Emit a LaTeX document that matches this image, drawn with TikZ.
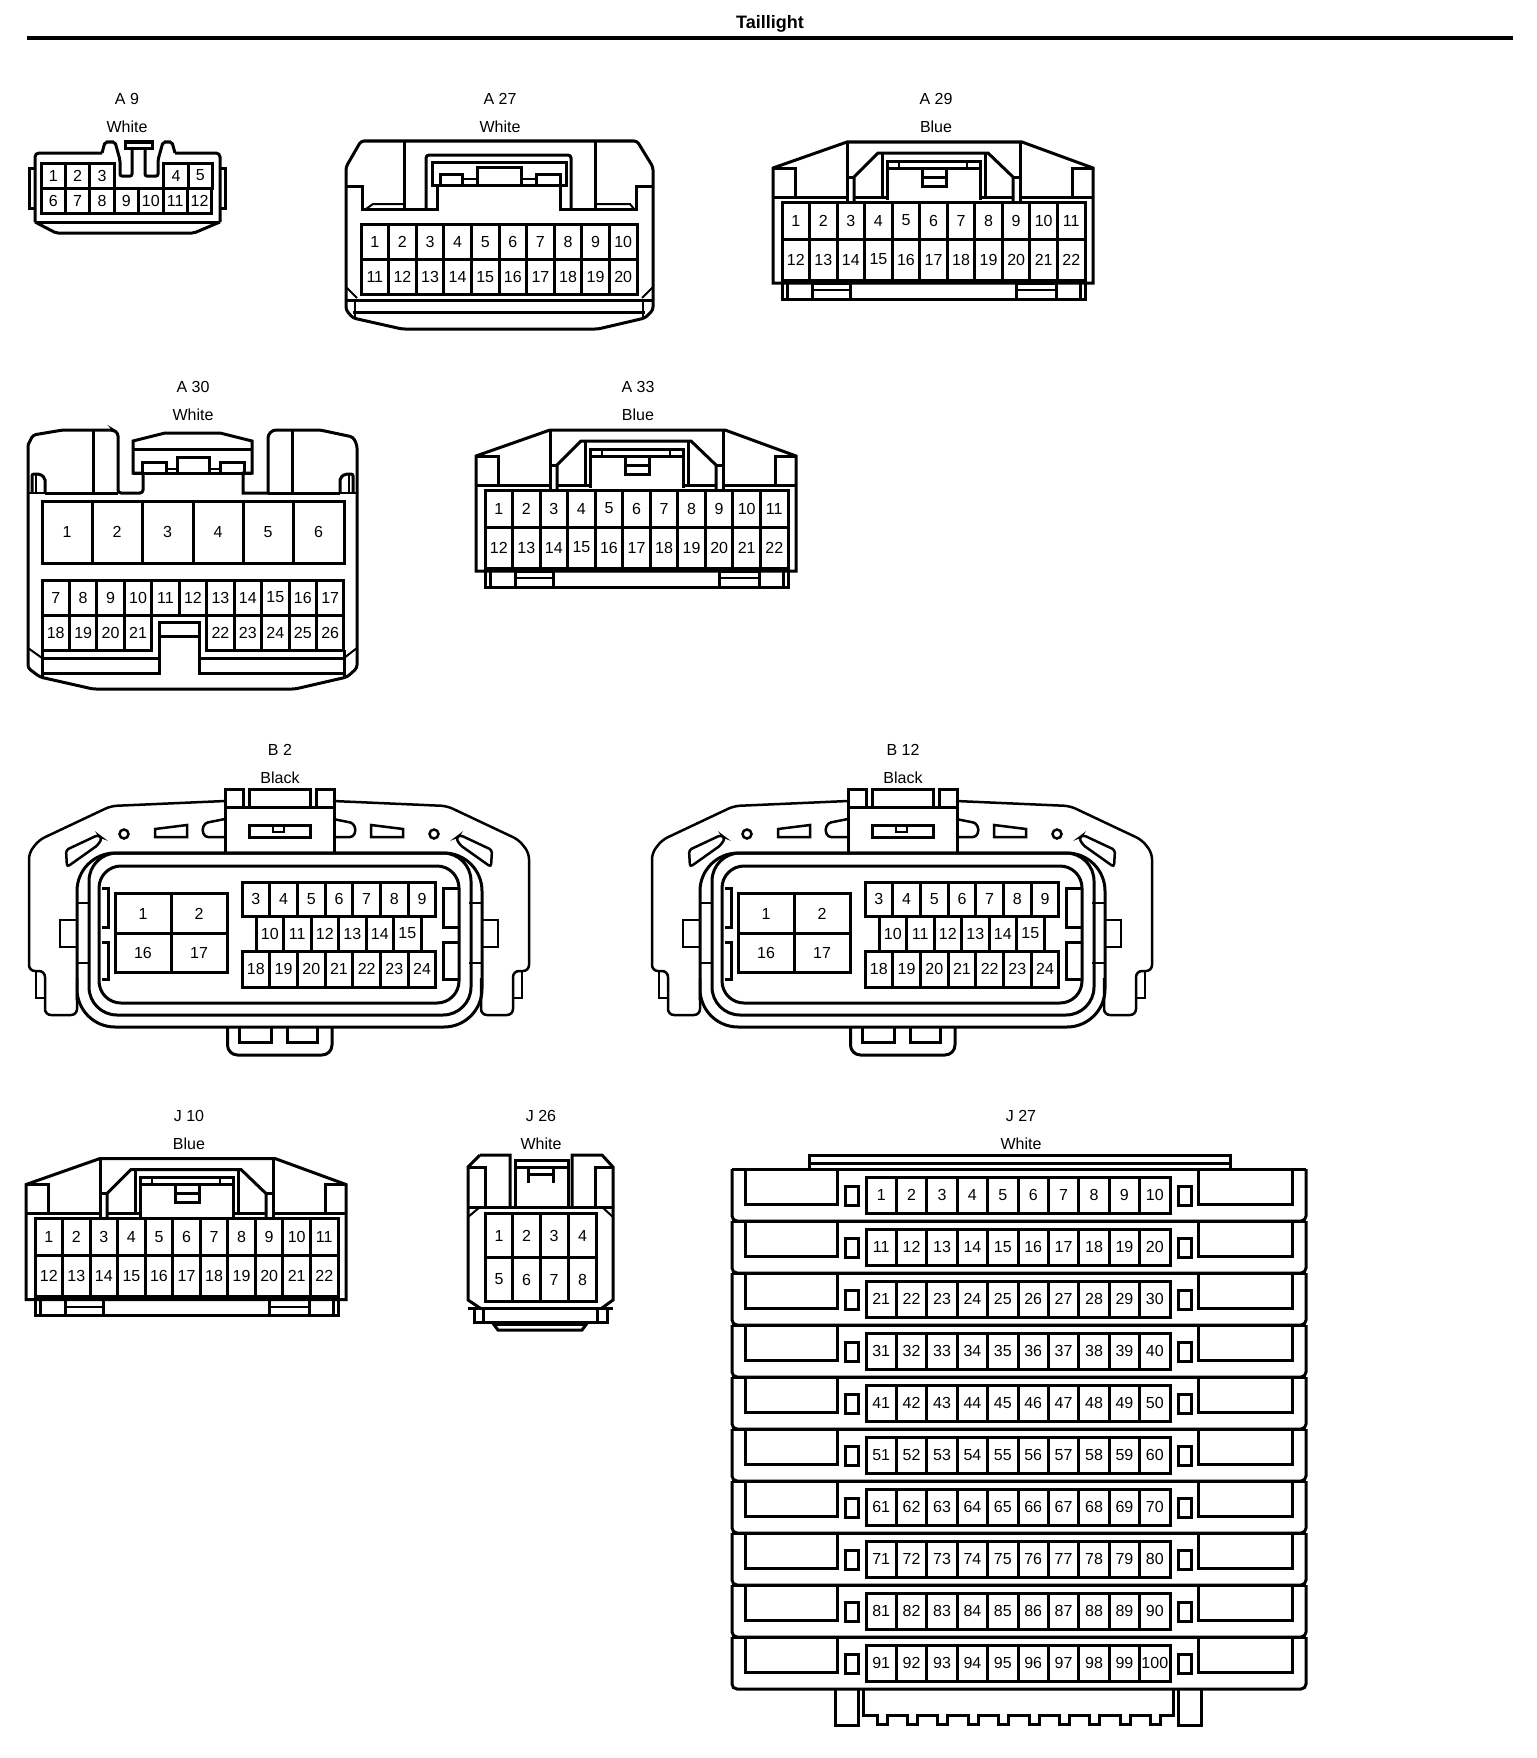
\documentclass[tikz,border=0pt]{standalone}
\usepackage{fontspec}
\setmainfont{Liberation Sans}
\tikzset{
  ln/.style={line width=3pt,line join=miter,line cap=butt},
  thinln/.style={line width=2pt},
  pin/.style={draw,line width=3pt,inner sep=0pt,outer sep=0pt,font=\fontsize{16}{16}\selectfont,fill=white},
  capt/.style={inner sep=0pt,font=\fontsize{16}{16}\selectfont},
}
% #1 prefix, #2 left x, #3 centre y, #4 width, #5 height, #6 first, #7 last
\newcommand{\cellrow}[7]{%
  \foreach \n in {#6,...,#7}{%
    \pgfmathsetmacro{\cx}{#2+(\n-#6+0.5)*#4}%
    \node[pin,minimum width=#4pt,minimum height=#5pt] (#1p\n) at (\cx,#3) {\n};%
  }%
}
\newcommand{\twolabels}[5]{%
  \node[capt] (#1id) at (#2,#3) {#4};
  \node[capt] (#1col) at (#2,#3+28) {#5};
}
\newcommand{\bluetwentytwo}[1]{%
  \draw[ln] (773,283) -- (773,168) -- (847,142) -- (1022,142) -- (1093,168) -- (1093,283) -- cycle;
  \draw[ln] (782,283) -- (782,299) -- (1085,299) -- (1085,283);
  \draw[ln] (787,283) -- (787,299) (1080,283) -- (1080,299);
  \draw[ln] (812,283) rectangle (850,299) (1016,283) rectangle (1056,299);
  \draw[thinln] (812,290) -- (850,290) (1016,290) -- (1056,290);
  \draw[ln] (773,168) -- (795,168) -- (795,197) (1093,168) -- (1072,168) -- (1072,197);
  \draw[ln] (773,197) -- (847,197) (847,142) -- (847,202);
  \draw[ln] (1093,197) -- (1020,197) (1020,142) -- (1020,202);
  \draw[ln] (854,202) -- (854,177) -- (878,153) -- (988,153) -- (1013,177) -- (1013,202);
  \draw[ln] (847,177) -- (854,177) (1013,177) -- (1020,177);
  \draw[ln] (854,197) -- (887,197) (980,197) -- (1013,197);
  \draw[ln] (882,153) -- (882,197) (985,153) -- (985,197);
  \draw[ln] (887,200) -- (887,161) -- (980,161) -- (980,200);
  \draw[ln] (887,168) -- (980,168);
  \draw[thinln] (899,161) -- (899,168) (967,161) -- (967,168);
  \draw[ln] (922,168) -- (922,186) -- (946,186) -- (946,168) (922,177) -- (946,177);
  \cellrow{#1}{782}{220.5}{27.55}{37}{1}{11}
  \cellrow{#1}{782}{259.5}{27.55}{41}{12}{22}
}
\newcommand{\bodyhalf}{%
  \draw[ln,line width=2.5pt,rounded corners=6pt] (225,801) -- (111,806) -- (39,840) -- (29,853) -- (29,971) -- (45,971) -- (45,1015) -- (77,1015) -- (77,978);
  \draw[ln,line width=2.5pt] (36,971) -- (36,998) -- (45,998);
  \draw[ln,line width=2.5pt] (77,920) -- (60,920) -- (60,947) -- (77,947);
  \draw[ln,line width=2.5pt] (77,903) -- (89,903) (77,963) -- (89,963);
  \draw[ln,line width=2.5pt] (155,829) -- (187,825) -- (187,837) -- (155,837) -- cycle;
  \draw[ln,line width=2.5pt] (124,834) circle (4.5);
  \draw[ln,line width=2.5pt,rounded corners=3pt] (225,819) -- (205,823) -- (202,830) -- (205,837) -- (225,837);
  \draw[ln,line width=2.5pt,rounded corners=3pt] (66,850) -- (98,835) -- (102,838) -- (98,845) -- (67,867) -- cycle;
}
\newcommand{\connB}[1]{%
  \bodyhalf
  \begin{scope}[xshift=558pt,xscale=-1]\bodyhalf\end{scope}
  \draw[ln] (225,853) -- (225,789) -- (243,789) -- (243,807) (249,807) -- (249,789) -- (310,789) -- (310,807) (316,807) -- (316,789) -- (334,789) -- (334,853);
  \draw[ln] (225,807) -- (334,807);
  \draw[ln] (249,825) rectangle (310,837);
  \draw[thinln] (273,825) -- (273,832) -- (284,832) -- (284,825);
  \draw[ln,rounded corners=38pt] (77,1000) -- (77,853) -- (482,853) -- (482,1027) -- (77,1027) -- (77,1000);
  \draw[ln,rounded corners=28pt] (89,950) -- (89,853) -- (471,853) -- (471,1015) -- (89,1015) -- (89,950);
  \draw[ln,rounded corners=22pt] (99,950) -- (99,866) -- (459,866) -- (459,1003) -- (99,1003) -- (99,950);
  \draw[ln] (102,888) -- (108,888) -- (108,927) -- (102,927) (102,942) -- (108,942) -- (108,979) -- (102,979);
  \draw[ln] (459,888) -- (443,888) -- (443,927) -- (459,927) (459,942) -- (443,942) -- (443,979) -- (459,979);
  \draw[ln,rounded corners=10pt] (227.5,1027) -- (227.5,1055) -- (332,1055) -- (332,1027);
  \draw[ln] (239,1027) -- (239,1042) -- (271,1042) -- (271,1027) (287.5,1027) -- (287.5,1042) -- (317,1042) -- (317,1027);
  \node[pin,minimum width=56pt,minimum height=39.5pt] (#1p1) at (143,913.5) {1};
  \node[pin,minimum width=56pt,minimum height=39.5pt] (#1p2) at (199,913.5) {2};
  \node[pin,minimum width=56pt,minimum height=39.5pt] (#1p16) at (143,953) {16};
  \node[pin,minimum width=56pt,minimum height=39.5pt] (#1p17) at (199,953) {17};
  \cellrow{#1}{242}{899}{27.7}{34}{3}{9}
  \cellrow{#1}{256}{933.5}{27.5}{35}{10}{15}
  \cellrow{#1}{242}{969}{27.7}{36}{18}{24}
}
\newcommand{\stackrow}[4]{%
  \draw[ln,rounded corners=5pt] (732,#1) -- (732,#1+52) -- (1306,#1+52) -- (1306,#1);
  \draw[ln] (732,#1) -- (1306,#1);
  \draw[ln] (745,#1) -- (745,#1+35) -- (837,#1+35) -- (837,#1);
  \draw[ln] (1292,#1) -- (1292,#1+35) -- (1198,#1+35) -- (1198,#1);
  \draw[ln] (845,#1+17) rectangle (858,#1+36);
  \draw[ln] (1178,#1+17) rectangle (1191,#1+36);
  \cellrow{j27}{866}{#1+26}{30.4}{36}{#2}{#3}
}
\begin{document}
\begin{tikzpicture}[x=1pt,y=-1pt]
\useasboundingbox (0,0) rectangle (1536,1758);
\fill[white] (0,0) rectangle (1536,1758);
% title
\node[inner sep=0pt,font=\fontsize{18}{18}\selectfont\bfseries] (title) at (770,24) {Taillight};
\coordinate (ruleL) at (27,38);
\coordinate (ruleR) at (1513,38);
\draw[line width=4.5pt] (ruleL) -- (ruleR);

% ---- A 9
\twolabels{a9}{127}{99}{A 9}{White}
\draw[ln,rounded corners=4pt] (35,222) -- (35,153) -- (102,153);
\draw[ln,rounded corners=4pt] (175,153) -- (220,153) -- (220,222);
\draw[ln] (35,222) -- (220,222);
\draw[ln,rounded corners=2pt] (35,222) -- (56,233) -- (194,233) -- (220,222);
\draw[ln] (35,168) -- (29,168) -- (29,208) -- (35,208) (220,168) -- (225,168) -- (225,208) -- (220,208);
\draw[ln,rounded corners=2pt] (102,153) -- (105,142) -- (115,142) -- (120,160) -- (120,176) -- (132,176) -- (132,148);
\draw[ln,rounded corners=2pt] (175,153) -- (172,142) -- (163,142) -- (158,160) -- (158,176) -- (145,176) -- (145,148);
\draw[ln] (125,142) rectangle (152,148);
\cellrow{a9}{41}{175.5}{24.4}{25}{1}{3}
\cellrow{a9}{163.8}{175.5}{24.4}{25}{4}{5}
\cellrow{a9}{41}{200.5}{24.4}{25}{6}{12}

% ---- A 27
\twolabels{a27}{500}{99}{A 27}{White}
\draw[ln,rounded corners=3pt] (361,141) -- (346,167) -- (346,310) -- (353,318) -- (402,329) -- (598,329) -- (645,318) -- (653,310) -- (653,167) -- (637,141) -- cycle;
\draw[ln] (346,186) -- (362,186) -- (362,209) -- (437,209) -- (437,185);
\draw[ln] (653,186) -- (636,186) -- (636,209) -- (560,209) -- (560,185);
\draw[ln,rounded corners=3pt] (426,209) -- (426,155) -- (571,155) -- (571,209);
\draw[ln] (432,185) -- (432,162) -- (566,162) -- (566,185) -- cycle;
\draw[ln] (440,185) -- (440,174) -- (462,174) -- (462,185) (477,185) -- (477,167) -- (521,167) -- (521,185) (536,185) -- (536,174) -- (560,174) -- (560,185);
\draw[thinln] (462,179) -- (477,179) (521,179) -- (536,179);
\draw[ln] (404,141) -- (404,209) (595,141) -- (595,209);
\draw[thinln] (366,209) -- (373,204) -- (404,204) (595,204) -- (630,204) -- (634,209);
\cellrow{a27}{361}{242}{27.6}{35}{1}{10}
\cellrow{a27}{361}{277}{27.6}{35}{11}{20}
\draw[ln] (346,300) -- (653,300) (353,312) -- (645,312);
\draw[thinln] (346,287) -- (357,298) (653,287) -- (642,298);
\draw[thinln] (355,300) -- (355,318) (643,300) -- (643,318);

% ---- A 29
\twolabels{a29}{936}{99}{A 29}{Blue}
\bluetwentytwo{a29}

% ---- A 33
\twolabels{a33}{638}{387}{A 33}{Blue}
\begin{scope}[shift={(-297,288)}]\bluetwentytwo{a33}\end{scope}

% ---- A 30
\twolabels{a30}{193}{387}{A 30}{White}
\draw[ln,rounded corners=3pt] (28,445) -- (33,435) -- (63,430) -- (113,430) -- (118,433) -- (118,493) -- (143,493) -- (143,473);
\draw[ln] (143,473) -- (133,473) -- (133,441) -- (165,433) -- (220,433) -- (252,441) -- (252,473) -- (243,473) -- (243,493) -- (268,493);
\draw[ln,rounded corners=3pt] (268,493) -- (268,435) -- (273,430) -- (320,430) -- (353,437) -- (357,445) -- (357,668) -- (347,677) -- (295,689) -- (93,689) -- (40,677) -- (28,668) -- (28,445);
\draw[ln] (133,449) -- (252,449) (133,473) -- (252,473);
\draw[ln] (142,473) -- (142,462) -- (166,462) -- (166,473) (177,473) -- (177,457) -- (209,457) -- (209,473) (220,473) -- (220,462) -- (244,462) -- (244,473);
\draw[thinln] (166,469) -- (177,469) (209,469) -- (220,469);
\draw[ln] (93,430) -- (93,493) (292,430) -- (292,493);
\draw[ln] (45,493) -- (118,493) (268,493) -- (340,493);
\draw[thinln] (28,493) -- (45,493) (340,493) -- (357,493);
\draw[ln,rounded corners=2pt] (32,493) -- (32,474) -- (40,474) -- (45,478) -- (45,493);
\draw[ln,rounded corners=2pt] (353,493) -- (353,474) -- (345,474) -- (340,478) -- (340,493);
\draw[thinln] (36,474) -- (36,493) (349,474) -- (349,493);
\foreach \n/\xa/\xb in {1/42/92,2/92/142,3/142/193,4/193/243,5/243/293,6/293/344}{
  \pgfmathsetmacro{\cx}{(\xa+\xb)/2}
  \pgfmathsetmacro{\cw}{\xb-\xa}
  \node[pin,minimum width=\cw pt,minimum height=62pt] (a30p\n) at (\cx,532) {\n};
}
\cellrow{a30}{42}{597.5}{27.45}{35}{7}{17}
\cellrow{a30}{42}{632.5}{27.45}{35}{18}{21}
\cellrow{a30}{206.7}{632.5}{27.45}{35}{22}{26}
\draw[ln] (42,650) -- (42,677) (344,650) -- (344,677);
\draw[ln] (42,673) -- (159,673) -- (159,622) -- (199,622) -- (199,673) -- (344,673);
\draw[ln] (159,636) -- (199,636);
\draw[ln] (42,658) -- (159,658) (199,658) -- (344,658);
\draw[thinln] (28,648) -- (42,658) (357,648) -- (344,658);

% ---- B 2 / B 12
\twolabels{b2}{280}{750}{B 2}{Black}
\connB{b2}
\twolabels{b12}{903}{750}{B 12}{Black}
\begin{scope}[xshift=623pt]\connB{b12}\end{scope}

% ---- J 10
\twolabels{j10}{189}{1115.5}{J 10}{Blue}
\begin{scope}[shift={(-747,1016.5)}]\bluetwentytwo{j10}\end{scope}

% ---- J 26
\twolabels{j26}{541}{1115.5}{J 26}{White}
\draw[ln] (480,1155) -- (510,1155) -- (510,1207) (572,1207) -- (572,1155) -- (602,1155) -- (613,1167) -- (613,1300) -- (602,1308) (480,1308) -- (468,1300) -- (468,1167) -- (480,1155);
\draw[ln] (515,1207) -- (515,1160) -- (568,1160) -- (568,1207);
\draw[ln] (515,1167) -- (568,1167);
\draw[ln] (528,1167) -- (528,1183) (553,1167) -- (553,1183);
\draw[ln] (528,1174) -- (553,1174);
\draw[ln] (468,1167) -- (485,1167) -- (485,1207) (613,1167) -- (595,1167) -- (595,1207);
\draw[ln] (468,1207) -- (613,1207);
\draw[thinln] (468,1217) -- (480,1207) (613,1217) -- (602,1207);
\foreach \n/\cx in {1/499,2/526.5,3/554,4/582.5}{
  \node[pin,minimum width=28pt,minimum height=43.5pt] (j26p\n) at (\cx,1235.5) {\n};
}
\foreach \n/\cx in {5/499,6/526.5,7/554,8/582.5}{
  \node[pin,minimum width=28pt,minimum height=43.5pt] (j26p\n) at (\cx,1279.5) {\n};
}
\draw[ln] (468,1308) -- (613,1308);
\draw[ln] (474,1308) -- (474,1322) -- (607,1322) -- (607,1308);
\draw[ln] (483,1308) -- (483,1322) (597,1308) -- (597,1322);
\draw[ln] (492,1322) -- (498,1330) -- (582,1330) -- (588,1322);
\draw[thinln] (495,1325) -- (585,1325);

% ---- J 27
\twolabels{j27}{1021}{1115.5}{J 27}{White}
\draw[ln] (809,1169) -- (809,1155) -- (1230,1155) -- (1230,1169);
\draw[ln] (809,1163) -- (1230,1163);
\stackrow{1169}{1}{10}{}
\stackrow{1221}{11}{20}{}
\stackrow{1273}{21}{30}{}
\stackrow{1325}{31}{40}{}
\stackrow{1377}{41}{50}{}
\stackrow{1429}{51}{60}{}
\stackrow{1481}{61}{70}{}
\stackrow{1533}{71}{80}{}
\stackrow{1585}{81}{90}{}
\stackrow{1637}{91}{100}{}
\draw[ln] (835,1689) -- (835,1725) -- (858.5,1725) -- (858.5,1689);
\draw[ln] (1178,1689) -- (1178,1725) -- (1201.5,1725) -- (1201.5,1689);
\draw[ln] (863.5,1689) -- (863.5,1715)
  \foreach \i in {0,...,9}{ -- ({877+30.4*\i},1715) -- ({877+30.4*\i},1724) -- ({887+30.4*\i},1724) -- ({887+30.4*\i},1715) }
  -- (1173.5,1715) -- (1173.5,1689);
\end{tikzpicture}
\end{document}
